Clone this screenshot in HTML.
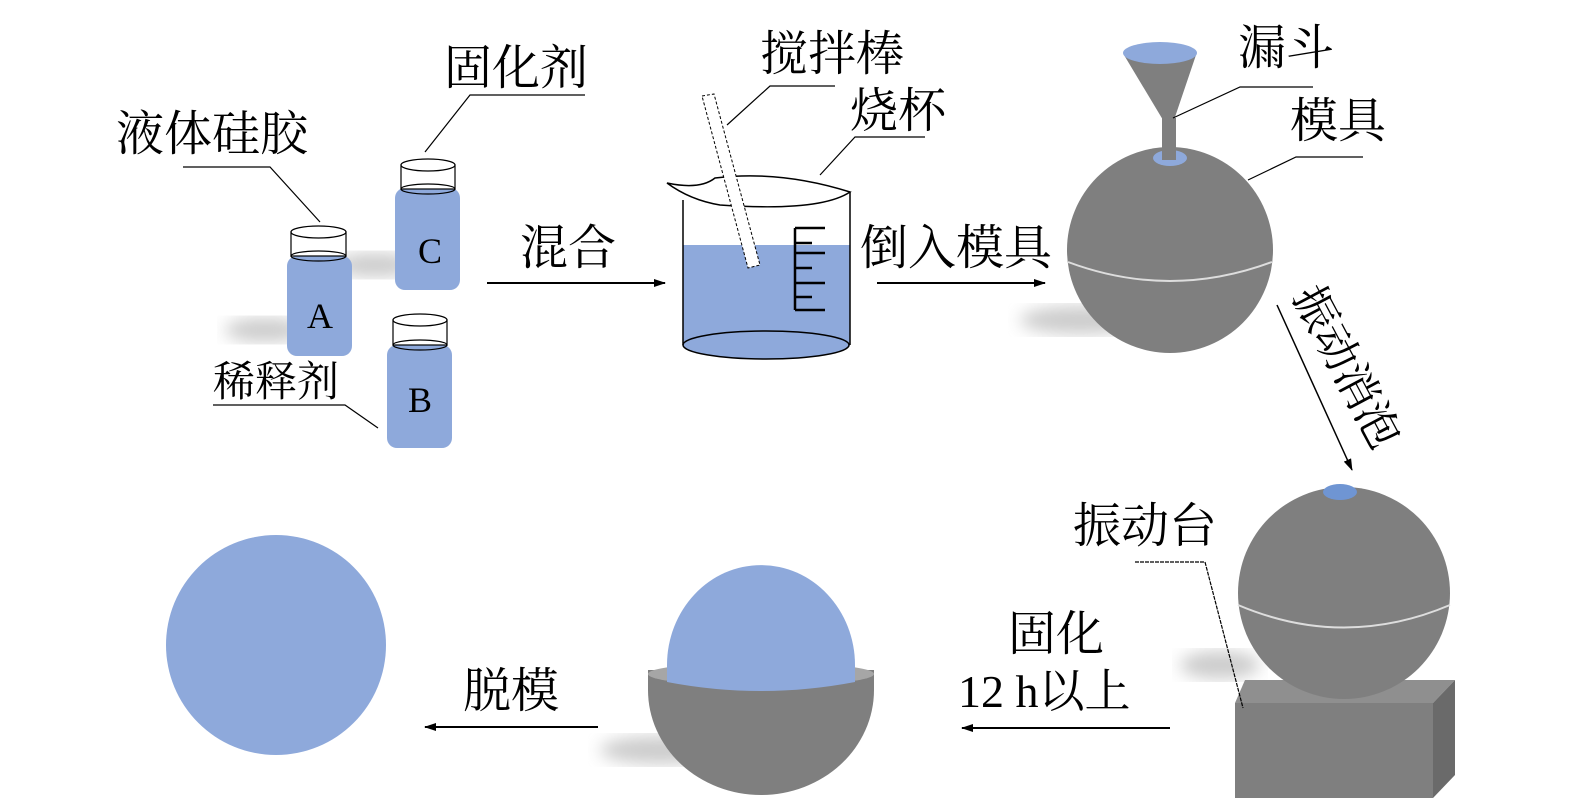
<!DOCTYPE html>
<html><head><meta charset="utf-8"><style>
html,body{margin:0;padding:0;background:#fff;}
svg{display:block;}
text{font-family:"Liberation Serif","Noto Serif CJK SC","Noto Sans CJK SC",serif;fill:#000;}
</style></head><body>
<svg width="1575" height="807" viewBox="0 0 1575 807" xmlns="http://www.w3.org/2000/svg">
<defs>
<marker id="ah" markerWidth="12" markerHeight="8" refX="11" refY="4" orient="auto" markerUnits="userSpaceOnUse"><path d="M0,0 L12,4 L0,8 Z" fill="#000"/></marker>
<filter id="blur"><feGaussianBlur stdDeviation="8"/></filter>
</defs>
<ellipse cx="265" cy="330" rx="40" ry="12" fill="#ccc" filter="url(#blur)"/>
<ellipse cx="375" cy="265" rx="40" ry="12" fill="#ccc" filter="url(#blur)"/>
<ellipse cx="1080" cy="320" rx="60" ry="14" fill="#ccc" filter="url(#blur)"/>
<ellipse cx="660" cy="750" rx="60" ry="14" fill="#ccc" filter="url(#blur)"/>
<ellipse cx="1220" cy="665" rx="40" ry="14" fill="#ccc" filter="url(#blur)"/>

<rect x="287" y="256" width="65" height="100" rx="10" fill="#8ea9db"/>
<rect x="291" y="232" width="55" height="24" fill="#fff" stroke="#000" stroke-width="1.2"/>
<ellipse cx="318.5" cy="232" rx="27.5" ry="6" fill="#fff" stroke="#000" stroke-width="1.2"/>
<ellipse cx="318.5" cy="256" rx="27.5" ry="5" fill="none" stroke="#000" stroke-width="1.2"/>
<text x="320" y="328" font-size="36" text-anchor="middle">A</text>
<rect x="395" y="188" width="65" height="102" rx="10" fill="#8ea9db"/>
<rect x="401" y="165" width="54" height="24" fill="#fff" stroke="#000" stroke-width="1.2"/>
<ellipse cx="428" cy="165" rx="27" ry="6" fill="#fff" stroke="#000" stroke-width="1.2"/>
<ellipse cx="428" cy="189" rx="27" ry="5" fill="none" stroke="#000" stroke-width="1.2"/>
<text x="430" y="263" font-size="36" text-anchor="middle">C</text>
<rect x="387" y="345" width="65" height="103" rx="10" fill="#8ea9db"/>
<rect x="393" y="320" width="54" height="25" fill="#fff" stroke="#000" stroke-width="1.2"/>
<ellipse cx="420" cy="320" rx="27" ry="6" fill="#fff" stroke="#000" stroke-width="1.2"/>
<ellipse cx="420" cy="345" rx="27" ry="5" fill="none" stroke="#000" stroke-width="1.2"/>
<text x="420" y="412" font-size="36" text-anchor="middle">B</text>

<text x="116" y="150" font-size="48">液体硅胶</text>
<polyline points="183,167 270,167 320,222" fill="none" stroke="#000" stroke-width="1.2"/>
<text x="444" y="84" font-size="48">固化剂</text>
<polyline points="585,95 470,95 425,152" fill="none" stroke="#000" stroke-width="1.2"/>
<text x="213" y="396" font-size="42">稀释剂</text>
<polyline points="213,405 345,405 378,428" fill="none" stroke="#000" stroke-width="1.2"/>

<text x="520" y="264" font-size="48">混合</text>
<line x1="487" y1="283" x2="665" y2="283" stroke="#000" stroke-width="2" marker-end="url(#ah)"/>

<path d="M683,245 L683,345 A83,14 0 0 0 850,345 L850,245 Z" fill="#8ea9db"/>
<ellipse cx="766" cy="345" rx="83" ry="14" fill="none" stroke="#000" stroke-width="1.5"/>
<path d="M683,200 L683,345 M850,192 L850,345" stroke="#000" stroke-width="1.5" fill="none"/>
<path d="M667,183 Q700,190 715,178 Q780,170 850,192 Q820,212 720,205 Q690,200 667,183 Z" fill="#fff" stroke="#000" stroke-width="1.5"/>
<path d="M795,228 H825 M795,243 H812 M795,253 H825 M795,268 H812 M795,283 H825 M795,297 H812 M795,310 H825 M795,228 V310" stroke="#000" stroke-width="2.5" fill="none"/>
<path d="M702,96 L714,94 L760,265 L748,268 Z" fill="#fff" stroke="#000" stroke-width="1" stroke-dasharray="3,2"/>
<text x="760" y="70" font-size="48">搅拌棒</text>
<polyline points="727,125 770,86 835,86" fill="none" stroke="#000" stroke-width="1.2"/>
<text x="850" y="127" font-size="48">烧杯</text>
<polyline points="820,175 855,137 925,137" fill="none" stroke="#000" stroke-width="1.2"/>

<text x="860" y="264" font-size="48">倒入模具</text>
<line x1="877" y1="283" x2="1045" y2="283" stroke="#000" stroke-width="2" marker-end="url(#ah)"/>

<circle cx="1170" cy="250" r="103" fill="#7f7f7f"/>
<path d="M1068,262 Q1170,300 1272,262" fill="none" stroke="#ddd" stroke-width="2"/>
<ellipse cx="1170" cy="158" rx="17" ry="8" fill="#8ea9db"/>
<rect x="1162" y="118" width="14" height="42" fill="#7f7f7f"/>
<path d="M1124,55 L1196,55 L1174,120 L1163,120 Z" fill="#7f7f7f"/>
<ellipse cx="1160" cy="53" rx="37" ry="11" fill="#8ea9db"/>
<text x="1238" y="64" font-size="48">漏斗</text>
<polyline points="1173,118 1240,87 1313,87" fill="none" stroke="#000" stroke-width="1.2"/>
<text x="1290" y="137" font-size="48">模具</text>
<polyline points="1248,180 1296,157 1363,157" fill="none" stroke="#000" stroke-width="1.2"/>

<line x1="1277" y1="305" x2="1352" y2="470" stroke="#000" stroke-width="1.5" marker-end="url(#ah)"/>
<text x="0" y="0" font-size="44" transform="translate(1292,296) rotate(62)">振动消泡</text>

<path d="M1245,680 L1455,680 L1433,703 L1235,703 Z" fill="#8f8f8f"/>
<rect x="1235" y="703" width="198" height="95" fill="#7f7f7f"/>
<path d="M1433,703 L1455,680 L1455,775 L1433,798 Z" fill="#6a6a6a"/>
<circle cx="1344" cy="593" r="106" fill="#7f7f7f"/>
<path d="M1238,605 Q1344,650 1450,605" fill="none" stroke="#ddd" stroke-width="2"/>
<ellipse cx="1340" cy="492" rx="17" ry="8" fill="#6f95d3"/>
<text x="1073" y="542" font-size="48">振动台</text>
<polyline points="1135,562 1205,562 1243,708" fill="none" stroke="#000" stroke-width="1.2" stroke-dasharray="4,1"/>

<text x="1008" y="650" font-size="48">固化</text>
<text x="958" y="707" font-size="46">12 h以上</text>
<line x1="1170" y1="728" x2="962" y2="728" stroke="#000" stroke-width="2" marker-end="url(#ah)"/>

<path d="M648,670 L648,690 A113,105 0 0 0 874,690 L874,670 Z" fill="#7f7f7f"/>
<ellipse cx="761" cy="674" rx="113" ry="12" fill="#a6a6a6"/>
<path d="M667,682 L667,665 A94,100 0 0 1 855,665 L855,682 Q761,700 667,682 Z" fill="#8ea9db"/>

<text x="463" y="707" font-size="48">脱模</text>
<line x1="598" y1="727" x2="425" y2="727" stroke="#000" stroke-width="2" marker-end="url(#ah)"/>

<circle cx="276" cy="645" r="110" fill="#8ea9db"/>
</svg>
</body></html>
